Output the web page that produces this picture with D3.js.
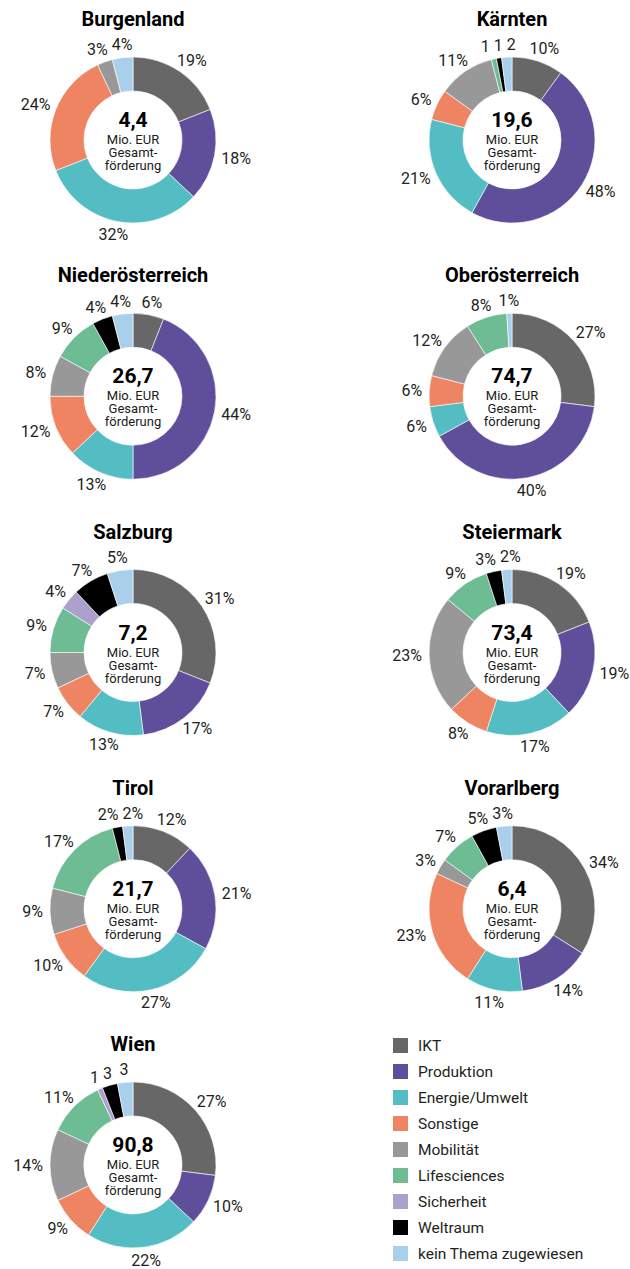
<!DOCTYPE html>
<html lang="de">
<head>
<meta charset="utf-8">
<title>Gesamtförderung nach Bundesland und Thema</title>
<script src="https://cdn.jsdelivr.net/npm/d3@7"></script>
<style>
  html, body { margin: 0; padding: 0; background: #fff; }
  svg { display: block; font-family: Roboto, "Noto Sans", sans-serif; }
</style>
</head>
<body>
<svg id="chart" width="630" height="1269"></svg>
<script>
// Themen (Reihenfolge im Uhrzeigersinn ab 12 Uhr) und ihre Farben
const themen = ["IKT", "Produktion", "Energie/Umwelt", "Sonstige", "Mobilität",
                "Lifesciences", "Sicherheit", "Weltraum", "kein Thema zugewiesen"];
const farben = ["#676767", "#5f4f9a", "#54bdc3", "#ee8461", "#989898",
                "#6dbc94", "#aca1cc", "#000000", "#a9cfeb"];

// Bundesländer und Gesamtförderung in Mio. EUR
const laender = ["Burgenland", "Kärnten", "Niederösterreich", "Oberösterreich", "Salzburg",
                 "Steiermark", "Tirol", "Vorarlberg", "Wien"];
const gesamt = [4.4, 19.6, 26.7, 74.7, 7.2, 73.4, 21.7, 6.4, 90.8];

// Anteile je Thema in Prozent (Reihenfolge wie themen)
const burgenland        = [19, 18, 32, 24,  3,  0, 0, 0, 4];
const kaernten          = [10, 48, 21,  6, 11,  1, 0, 1, 2];
const niederoesterreich = [ 6, 44, 13, 12,  8,  9, 0, 4, 4];
const oberoesterreich   = [27, 40,  6,  6, 12,  8, 0, 0, 1];
const salzburg          = [31, 17, 13,  7,  7,  9, 4, 7, 5];
const steiermark        = [19, 19, 17,  8, 23,  9, 0, 3, 2];
const tirol             = [12, 21, 27, 10,  9, 17, 0, 2, 2];
const vorarlberg        = [34, 14, 11, 23,  3,  7, 0, 5, 3];
const wien              = [27, 10, 22,  9, 14, 11, 1, 3, 3];
const anteile = [burgenland, kaernten, niederoesterreich, oberoesterreich, salzburg,
                 steiermark, tirol, vorarlberg, wien];

// Länder, bei denen kleine Anteile ohne Prozentzeichen beschriftet sind
const kompakt = ["Kärnten", "Wien"];

const svg = d3.select("#chart");
const de = d3.formatLocale({ decimal: ",", thousands: ".", grouping: [3], currency: ["", " €"] });
const fmtTotal = de.format(".1f");

const farbe = d3.scaleOrdinal().domain(themen).range(farben);

const R_OUT = 83, R_IN = 49;
const colX = d3.scalePoint().domain([0, 1]).range([133, 512]);
const rowY = d3.scaleLinear().domain([0, 4]).range([140, 1165]);

const pie = d3.pie().sort(null).value(d => d.wert);
const arc = d3.arc().innerRadius(R_IN).outerRadius(R_OUT);

laender.forEach((land, i) => {
  const cx = colX(i % 2), cy = rowY(Math.floor(i / 2));
  const g = svg.append("g").attr("transform", `translate(${cx},${cy})`);
  const daten = themen.map((t, k) => ({ thema: t, wert: anteile[i][k] })).filter(d => d.wert > 0);
  const boegen = pie(daten);

  // Titel
  g.append("text")
    .attr("x", 0).attr("y", -114)
    .attr("text-anchor", "middle")
    .attr("font-size", 20).attr("font-weight", 700).attr("fill", "#000")
    .text(land);

  // Ringsegmente
  g.selectAll("path.seg").data(boegen).join("path")
    .attr("class", "seg")
    .attr("d", arc)
    .attr("fill", d => farbe(d.data.thema))
    .attr("stroke", "#fff").attr("stroke-width", 0.6);

  // Summe in der Mitte
  const mitte = g.append("text").attr("text-anchor", "middle").attr("fill", "#1a1a1a");
  mitte.append("tspan").attr("x", 0).attr("y", -13)
    .attr("font-size", 21).attr("font-weight", 700).attr("fill", "#000")
    .text(fmtTotal(gesamt[i]));
  ["Mio. EUR", "Gesamt-", "förderung"].forEach((z, n) => {
    mitte.append("tspan").attr("x", 0).attr("y", 4 + n * 13)
      .attr("font-size", 13).text(z);
  });

  // Prozentbeschriftungen außerhalb des Rings
  const ohneProzent = kompakt.includes(land);
  const labels = g.selectAll("text.lbl").data(boegen).join("text")
    .attr("class", "lbl")
    .attr("text-anchor", "middle")
    .attr("font-size", 16).attr("fill", "#231f20")
    .text(d => (ohneProzent && d.data.wert < 5) ? `${d.data.wert}` : `${d.data.wert}%`);

  const pad = 7, halfH = 6;
  const boxes = [];
  labels.each(function (d) {
    const w = this.getComputedTextLength();
    const a = (d.startAngle + d.endAngle) / 2;
    boxes.push({
      node: this, w, h: halfH * 2,
      x: (R_OUT + pad + w / 2) * Math.sin(a),
      y: -(R_OUT + pad + halfH) * Math.cos(a)
    });
  });

  // Überlappungen benachbarter Beschriftungen auflösen
  for (let it = 0; it < 200; it++) {
    let moved = false;
    for (let p = 0; p < boxes.length; p++) {
      for (let q = p + 1; q < boxes.length; q++) {
        const A = boxes[p], B = boxes[q];
        const ox = (A.w + B.w) / 2 + 4 - Math.abs(A.x - B.x);
        const oy = (A.h + B.h) / 2 + 2 - Math.abs(A.y - B.y);
        if (ox > 0 && oy > 0) {
          moved = true;
          if (ox < oy) {
            const s = (A.x <= B.x ? -1 : 1) * ox / 2;
            A.x += s; B.x -= s;
          } else {
            const s = (A.y <= B.y ? -1 : 1) * oy / 2;
            A.y += s; B.y -= s;
          }
        }
      }
    }
    if (!moved) break;
  }
  boxes.forEach(b => d3.select(b.node).attr("x", b.x).attr("y", b.y + 5.7));
});

// Legende
const legende = svg.append("g").attr("transform", "translate(393,1038)");
const eintrag = legende.selectAll("g").data(themen).join("g")
  .attr("transform", (d, k) => `translate(0,${k * 26})`);
eintrag.append("rect")
  .attr("width", 15).attr("height", 15)
  .attr("fill", d => farbe(d));
eintrag.append("text")
  .attr("x", 25).attr("y", 13.3)
  .attr("font-size", 15.5).attr("fill", "#231f20")
  .text(d => d);
</script>
</body>
</html>
